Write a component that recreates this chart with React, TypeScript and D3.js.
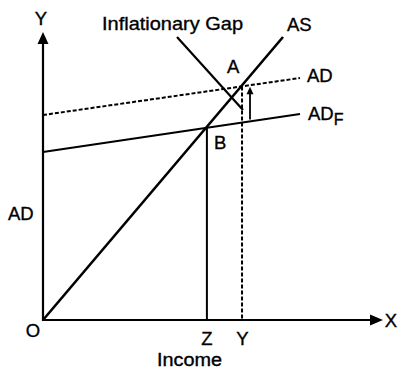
import React from "react";
import * as d3 from "d3";

// Curves in economic units (income on x, expenditure on y)
const asLine = [ [0, 0], [240, 283] ];
const adLine = [ [0, 205], [257, 242] ];
const adfLine = [ [0, 168], [257, 206] ];
const gapLine = [ [134, 283], [200, 210] ];
const arrowX = 207;
const axisMax = [340, 288];
const curveLabels = ["AS", "AD", "AD", "F"];
const pointLabels = ["A", "B"];
const axisLabels = ["Y", "X", "O", "Z", "Y", "AD", "Income", "Inflationary Gap"];

const W = 399, H = 370;
const FONT = "'Liberation Sans', Arial, sans-serif";

function intersect(l1: number[][], l2: number[][]) {
  const m1 = (l1[1][1] - l1[0][1]) / (l1[1][0] - l1[0][0]);
  const m2 = (l2[1][1] - l2[0][1]) / (l2[1][0] - l2[0][0]);
  const b1 = l1[0][1] - m1 * l1[0][0];
  const b2 = l2[0][1] - m2 * l2[0][0];
  const x = (b2 - b1) / (m1 - m2);
  return [x, m1 * x + b1];
}
function yAt(l: number[][], x: number) {
  const m = (l[1][1] - l[0][1]) / (l[1][0] - l[0][0]);
  return l[0][1] + m * (x - l[0][0]);
}

export default function App() {
  const x = d3.scaleLinear().domain([0, axisMax[0]]).range([43, 383]);
  const y = d3.scaleLinear().domain([0, axisMax[1]]).range([320, 32]);
  const line = d3.line<number[]>().x(d => x(d[0])).y(d => y(d[1]));
  const A = intersect(asLine, adLine);
  const B = intersect(asLine, adfLine);
  const arrBot = yAt(adfLine, arrowX);
  const arrTop = yAt(adLine, arrowX);
  const fs = 18.5;
  return (
    <svg width={W} height={H} style={{ position: "absolute", left: 0, top: 0, background: "#fff" }}>
      <g fill="none" stroke="#000" strokeLinecap="butt">
        {/* axes */}
        <path d={line([[0, axisMax[1] - 11], [0, 0], [axisMax[0] - 11, 0]])!} strokeWidth={2.2} />
        {/* curves */}
        <path d={line(asLine as any)!} strokeWidth={2.6} />
        <path d={line(adfLine as any)!} strokeWidth={2} />
        <path d={line(adLine as any)!} strokeWidth={2} strokeDasharray="4,2" />
        <path d={line(gapLine as any)!} strokeWidth={2.2} />
        {/* verticals */}
        <path d={line([[B[0] + 1, B[1]], [B[0] + 1, 0]])!} strokeWidth={2} />
        <path d={line([[A[0] + 1, A[1]], [A[0] + 1, 0]])!} strokeWidth={2} strokeDasharray="4,2" />
        {/* gap arrow */}
        <path d={line([[arrowX, arrBot + 2], [arrowX, arrTop - 8]])!} strokeWidth={1.8} />
      </g>
      <g fill="#000">
        {/* axis arrowheads */}
        <path d={`M${x(0)},${y(axisMax[1])} L${x(0) - 5.5},${y(axisMax[1]) + 12} L${x(0) + 5.5},${y(axisMax[1]) + 12} Z`} />
        <path d={`M${x(axisMax[0])},${y(0)} L${x(axisMax[0]) - 13},${y(0) - 5.5} L${x(axisMax[0]) - 13},${y(0) + 5.5} Z`} />
        <path d={`M${x(arrowX)},${y(arrTop) + 1.5} L${x(arrowX) - 3.5},${y(arrTop) + 9} L${x(arrowX) + 3.5},${y(arrTop) + 9} Z`} />
      </g>
      <g fontFamily={FONT} fontSize={fs} fill="#000" stroke="#000" strokeWidth={0.35}>
        <text x={41} y={25} textAnchor="middle">{axisLabels[0]}</text>
        <text x={391} y={327} textAnchor="middle">{axisLabels[1]}</text>
        <text x={33} y={337} textAnchor="middle">{axisLabels[2]}</text>
        <text x={x(B[0]) + 1} y={345} textAnchor="middle">{axisLabels[3]}</text>
        <text x={x(A[0]) + 1.5} y={345} textAnchor="middle">{axisLabels[4]}</text>
        <text x={8} y={220}>{axisLabels[5]}</text>
        <text x={157} y={366} fontSize={18} textLength={65} lengthAdjust="spacingAndGlyphs">{axisLabels[6]}</text>
        <text x={102} y={30} textLength={141} lengthAdjust="spacingAndGlyphs">{axisLabels[7]}</text>
        <text x={287} y={31}>{curveLabels[0]}</text>
        <text x={307} y={82}>{curveLabels[1]}</text>
        <text x={308} y={120}>{curveLabels[2]}<tspan dy={5} fontSize={16}>{curveLabels[3]}</tspan></text>
        <text x={x(A[0]) - 14} y={y(A[1]) - 13}>{pointLabels[0]}</text>
        <text x={x(B[0]) + 8} y={y(B[1]) + 21}>{pointLabels[1]}</text>
      </g>
    </svg>
  );
}
